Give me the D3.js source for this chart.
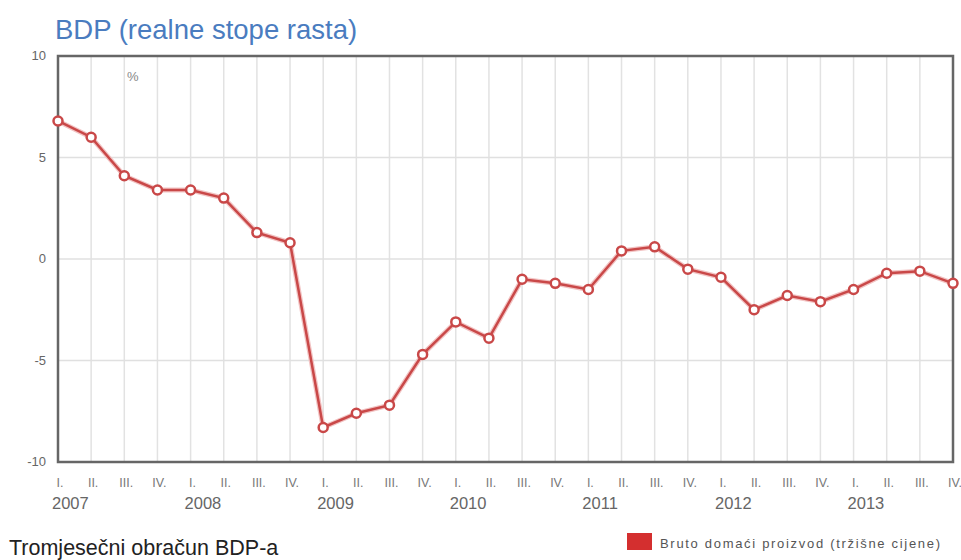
<!DOCTYPE html>
<html>
<head>
<meta charset="utf-8">
<script src="https://cdn.jsdelivr.net/npm/d3@7"></script>
<style>
  body { margin: 0; background: #fff; }
  text { font-family: "Liberation Sans", Arial, sans-serif; }
</style>
</head>
<body>
<div id="canvas"></div>
<script>
const years = ["2007", "2008", "2009", "2010", "2011", "2012", "2013"];
const quarters = ["I.", "II.", "III.", "IV."];
// real GDP growth rate, %, per quarter from I. 2007 to IV. 2013
const gdp = [6.8, 6.0, 4.1, 3.4, 3.4, 3.0, 1.3, 0.8,
             -8.3, -7.6, -7.2, -4.7, -3.1, -3.9, -1.0, -1.2,
             -1.5, 0.4, 0.6, -0.5, -0.9, -2.5, -1.8, -2.1,
             -1.5, -0.7, -0.6, -1.2];
const yTicks = [10, 5, 0, -5, -10];

const w = 961;
const h = 560;
const margin = { top: 56, bottom: 98, left: 58, right: 8 };

const width = w - (margin.left + margin.right);
const height = h - (margin.top + margin.bottom);

// one point per quarter
const points = [];
years.forEach((y, i) => {
  quarters.forEach((q, j) => {
    points.push({ year: y, q: q, idx: i * 4 + j, value: gdp[i * 4 + j] });
  });
});

const svg = d3.select("#canvas")
  .append("svg")
  .attr("width", w)
  .attr("height", h);

svg.append("text")
  .attr("x", 55)
  .attr("y", 39)
  .attr("font-size", 27.5)
  .attr("fill", "#4a7cbf")
  .text("BDP (realne stope rasta)");

const x = d3.scaleLinear().domain([0, points.length - 1]).range([0, width]);
const y = d3.scaleLinear().domain([-10, 10]).range([height, 0]);

const g = svg.append("g").attr("transform", `translate(${margin.left},${margin.top})`);

// vertical grid
g.selectAll(".vgrid")
  .data(points)
  .enter()
  .append("line")
  .attr("x1", d => x(d.idx)).attr("x2", d => x(d.idx))
  .attr("y1", 0).attr("y2", height)
  .attr("stroke", "#e2e2e2")
  .attr("stroke-width", 1.5);

// horizontal grid
g.selectAll(".hgrid")
  .data(yTicks)
  .enter()
  .append("line")
  .attr("x1", 0).attr("x2", width)
  .attr("y1", d => y(d)).attr("y2", d => y(d))
  .attr("stroke", "#e0e0e0")
  .attr("stroke-width", 1.5);

// frame
g.append("rect")
  .attr("width", width).attr("height", height)
  .attr("fill", "none")
  .attr("stroke", "#666")
  .attr("stroke-width", 2.5);

// y labels
g.selectAll(".ylab")
  .data(yTicks)
  .enter()
  .append("text")
  .attr("x", -12)
  .attr("y", d => y(d) + 4)
  .attr("text-anchor", "end")
  .attr("font-size", 13)
  .attr("fill", "#666")
  .text(d => d);

g.append("text")
  .attr("x", 69)
  .attr("y", 25)
  .attr("font-size", 13)
  .attr("fill", "#888")
  .text("%");

// x labels
g.selectAll(".qlab")
  .data(points)
  .enter()
  .append("text")
  .attr("x", d => x(d.idx) + 2)
  .attr("y", height + 25)
  .attr("text-anchor", "middle")
  .attr("font-family", "Liberation Serif, serif")
  .attr("font-size", 12.5)
  .attr("fill", "#777")
  .text(d => d.q);

g.selectAll(".ylab2")
  .data(points.filter(d => d.q === "I."))
  .enter()
  .append("text")
  .attr("x", d => x(d.idx) - 6)
  .attr("y", height + 47)
  .attr("font-size", 16.5)
  .attr("fill", "#666")
  .text(d => d.year);

// line
const line = d3.line().x(d => x(d.idx)).y(d => y(d.value));

g.append("path")
  .datum(points)
  .attr("d", line)
  .attr("fill", "none")
  .attr("stroke", "#f2c4c4")
  .attr("stroke-width", 5);

g.append("path")
  .datum(points)
  .attr("d", line)
  .attr("fill", "none")
  .attr("stroke", "#c94848")
  .attr("stroke-width", 2.5);

g.selectAll(".pt")
  .data(points)
  .enter()
  .append("circle")
  .attr("cx", d => x(d.idx))
  .attr("cy", d => y(d.value))
  .attr("r", 4.5)
  .attr("fill", "#fff")
  .attr("stroke", "#c94848")
  .attr("stroke-width", 2.5);

// footer
svg.append("text")
  .attr("x", 9)
  .attr("y", 555)
  .attr("font-size", 21.5)
  .attr("fill", "#222")
  .text("Tromjesečni obračun BDP-a");

svg.append("rect")
  .attr("x", 627).attr("y", 533)
  .attr("width", 25).attr("height", 17)
  .attr("fill", "#d42f2f");

svg.append("text")
  .attr("x", 660)
  .attr("y", 548)
  .attr("font-size", 13)
  .attr("fill", "#555")
  .attr("textLength", 280)
  .text("Bruto domaći proizvod (tržišne cijene)");
</script>
</body>
</html>
